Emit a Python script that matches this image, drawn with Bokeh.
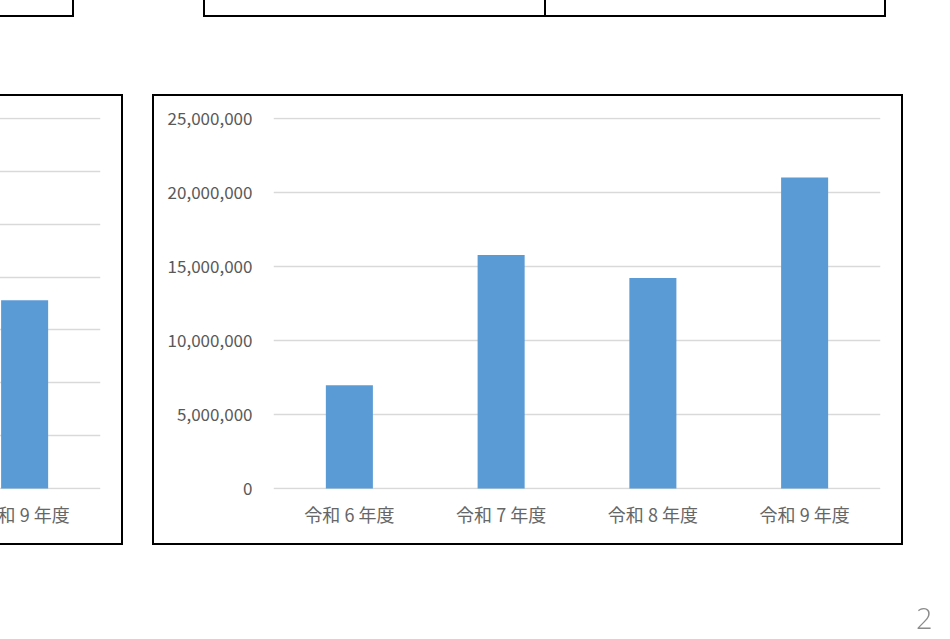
from bokeh.plotting import figure
from bokeh.models import FactorRange, Range1d, FixedTicker, NumeralTickFormatter, Div, Spacer, ColumnDataSource
from bokeh.layouts import column, row
from bokeh.embed import file_html
from bokeh.resources import INLINE

# ---- data ----
categories = ["令和 6 年度", "令和 7 年度", "令和 8 年度", "令和 9 年度"]
values = [6_970_000, 15_780_000, 14_230_000, 21_020_000]
y_ticks = [0, 5_000_000, 10_000_000, 15_000_000, 20_000_000, 25_000_000]

# partially visible chart on the left (only its last bar is in view)
left_categories = ["令和 9 年度"]
left_values = [1_780_000]
left_y_ticks = [0, 500_000, 1_000_000, 1_500_000, 2_000_000, 2_500_000, 3_000_000, 3_500_000]

page_number = "2"

BAR = "#5b9bd5"
GRID = "#d9d9d9"
YLABEL = "#595959"
XLABEL = "#666666"
JP = "Noto Sans CJK JP"
BOX = {"box-shadow": "0 0 0 2px #000000"}
PAD = 0.003  # tiny range padding so the gridlines at 0 and at the top are not clipped


def make_chart(all_cats, cats, vals, ticks, margin=None):
    src = ColumnDataSource(dict(cat=cats, val=vals))
    top_val = ticks[-1]
    p = figure(
        x_range=FactorRange(*all_cats),
        y_range=Range1d(-top_val * PAD, top_val * (1 + PAD)),
        width=747, height=447,
        output_backend="svg", toolbar_location=None,
        min_border_left=119, min_border_right=21,
        min_border_top=21, min_border_bottom=54,
        background_fill_color="white", border_fill_color="white",
        outline_line_color=None,
        styles=BOX,
    )
    if margin is not None:
        p.margin = margin
    p.vbar(x="cat", top="val", bottom=0, width=0.31, source=src, fill_color=BAR, line_color=None)

    p.xgrid.grid_line_color = None
    p.ygrid.grid_line_color = GRID
    p.ygrid.grid_line_width = 1.5
    p.yaxis.ticker = FixedTicker(ticks=ticks)
    p.yaxis.formatter = NumeralTickFormatter(format="0,0")

    for ax in (p.xaxis[0], p.yaxis[0]):
        ax.axis_line_color = None
        ax.major_tick_line_color = None
        ax.minor_tick_line_color = None
        ax.major_tick_out = 0
        ax.major_label_text_font = JP
    p.yaxis.major_label_text_color = YLABEL
    p.yaxis.major_label_text_font_size = "17px"
    p.yaxis.major_label_standoff = 21
    p.xaxis.major_label_text_color = XLABEL
    p.xaxis.major_label_text_font_size = "18px"
    p.xaxis.major_label_standoff = 11
    return p


left = make_chart(categories, left_categories, left_values, left_y_ticks, margin=(0, 0, 0, -626))
# only the last category of the left chart is in view: hide its off-screen texts
left.yaxis.visible = False
left.xaxis.major_label_overrides = {c: "" for c in categories if c not in left_categories}

main = make_chart(categories, categories, values, y_ticks)

top_html = """
<div style="position:relative;width:890px;height:96px;">
  <div style="position:absolute;left:0px;top:15px;width:74px;height:2px;background:#000;"></div>
  <div style="position:absolute;left:72px;top:0px;width:2px;height:17px;background:#000;"></div>
  <div style="position:absolute;left:203px;top:15px;width:683px;height:2px;background:#000;"></div>
  <div style="position:absolute;left:203px;top:0px;width:2px;height:17px;background:#000;"></div>
  <div style="position:absolute;left:544px;top:0px;width:1.5px;height:17px;background:#000;"></div>
  <div style="position:absolute;left:884px;top:0px;width:2px;height:17px;background:#000;"></div>
</div>
"""
top = Div(text=top_html, width=890, height=96, margin=0)

num = Div(
    text=page_number, width=30, height=40, margin=0,
    styles={"position": "fixed", "left": "916px", "top": "598px",
            "font-family": "'Open Sans'", "font-weight": "300",
            "font-size": "29px", "line-height": "normal", "color": "#8b8b8b"},
)

layout = column(top, row(left, Spacer(width=33, height=447, margin=0), main), num)

open("out.html", "w").write(file_html(layout, INLINE))
